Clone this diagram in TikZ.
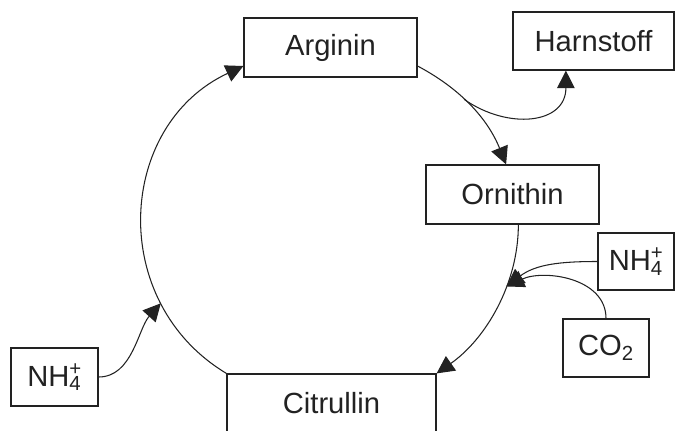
\documentclass[tikz,border=0pt]{standalone}
\usepackage{fontspec}
\setmainfont{Liberation Sans}
\usetikzlibrary{arrows.meta}

\definecolor{ink}{HTML}{222222}
\tikzstyle{box} = [draw=ink, line width=0.7pt, text=ink, inner sep=0pt, font=\fontsize{16.6}{20}\selectfont]
\tikzstyle{flow} = [draw=ink, line width=0.6pt, -{Triangle[length=10pt,width=10pt]}]
\newcommand{\ammon}{NH\rlap{\textsuperscript{+}}\textsubscript{4}}

\begin{document}
\begin{tikzpicture}[x=0.02cm,y=0.02cm]
      \useasboundingbox (0,0) rectangle (675,430);

      \node[box, minimum width=3.46cm, minimum height=1.18cm] (arg) at (330.5,382.5) {Arginin};
      \node[box, minimum width=3.22cm, minimum height=1.16cm] (harn) at (593.5,389) {Harnstoff};
      \node[box, minimum width=3.46cm, minimum height=1.18cm] (orn) at (512.5,235.5) {Ornithin};
      \node[box, minimum width=1.52cm, minimum height=1.14cm] (nhr) at (636,168.5) {\ammon};
      \node[box, minimum width=1.72cm, minimum height=1.16cm] (co) at (606,82) {CO\textsubscript{2}};
      \node[box, minimum width=1.74cm, minimum height=1.16cm] (nhl) at (54.5,53) {\ammon};
      \node[box, minimum width=4.18cm, minimum height=1.16cm] (cit) at (331.5,27) {Citrullin};

      \draw[flow] (cit.north west) to[out=149, in=205, looseness=1.16] coordinate[pos=0.25] (nhin) (arg.192);
      \draw[flow] (nhl.east) to[out=0, in=228, looseness=0.9] (nhin);
      \draw[flow] (arg.-12) to[out=-28, in=112, looseness=0.95] coordinate[pos=0.42] (split) (orn.102);
      \draw[flow] (split) to[out=-35, in=270, looseness=1.3] (harn.227);
      \draw[flow] (orn.-79) to[out=270, in=35, looseness=0.9] coordinate[pos=0.36] (join) (cit.north east);
      \draw[flow] (nhr.west) to[out=180, in=37] (join);
      \draw[flow] (co.north) to[out=90, in=25] (join);
    \end{tikzpicture}
\end{document}
